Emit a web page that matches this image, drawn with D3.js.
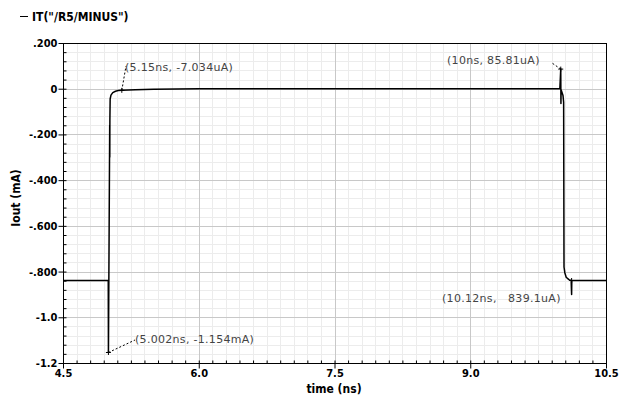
<!DOCTYPE html>
<html><head><meta charset="utf-8">
<script src="https://d3js.org/d3.v7.min.js"></script>
<style>body{margin:0;background:#fff}svg{display:block}</style>
</head><body>
<svg id="c" width="622" height="397"></svg>
<script>
const seriesName = 'IT("/R5/MINUS")';
const timeNs = [4.5, 5.000, 5.001, 5.002, 5.010, 5.016, 5.017, 5.018, 5.021, 5.030, 5.050, 5.080, 5.110, 5.150, 5.300, 5.500, 6.0, 7.5, 9.0, 9.99,
  10.000, 10.002, 10.004, 10.025, 10.032, 10.036, 10.045, 10.060, 10.090, 10.115, 10.120, 10.122, 10.5];
const ioutmA = [-0.839, -0.839, -1.0, -1.154, -0.60, -0.16, -0.30, -0.14, -0.045, -0.028, -0.017, -0.011, -0.008, -0.007, -0.004, -0.002, 0.0, 0.0, 0.0, 0.0,
  0.0858, -0.065, -0.005, -0.03, -0.06, -0.78, -0.805, -0.825, -0.835, -0.839, -0.90, -0.839, -0.839];
const xTicks = [4.5, 6.0, 7.5, 9.0, 10.5];
const xTickLabels = ["4.5", "6.0", "7.5", "9.0", "10.5"];
const yTicks = [0.2, 0, -0.2, -0.4, -0.6, -0.8, -1.0, -1.2];
const yTickLabels = [".200", "0", "-.200", "-.400", "-.600", "-.800", "-1.0", "-1.2"];
const markT = [5.15, 10.0, 5.002, 10.12];
const markV = [-0.007034, 0.08581, -1.154, -0.8391];
const markLabels = ["(5.15ns, -7.034uA)", "(10ns, 85.81uA)", "(5.002ns, -1.154mA)", "(10.12ns,   839.1uA)"];
const xLabel = "time (ns)";
const yLabel = "Iout (mA)";

const svg = d3.select("#c");
const L = 63, R = 606, T = 43, B = 363;
const x = d3.scaleLinear().domain([4.5, 10.5]).range([L, R]);
const y = d3.scaleLinear().domain([-1.2, 0.2]).range([B, T]);

const xMinor = d3.range(0, 41).map(i => 4.5 + i * 0.15);
const yMinor = d3.range(0, 36).map(i => -1.2 + i * 0.04);

const g = svg.append("g");
g.selectAll(".xm").data(xMinor).join("line")
  .attr("x1", d => Math.round(x(d)) + 0.5).attr("x2", d => Math.round(x(d)) + 0.5)
  .attr("y1", T).attr("y2", B).attr("stroke", "#ececec");
g.selectAll(".ym").data(yMinor).join("line")
  .attr("y1", d => Math.round(y(d)) + 0.5).attr("y2", d => Math.round(y(d)) + 0.5)
  .attr("x1", L).attr("x2", R).attr("stroke", "#ececec");
g.selectAll(".xM").data(xTicks).join("line")
  .attr("x1", d => Math.round(x(d)) + 0.5).attr("x2", d => Math.round(x(d)) + 0.5)
  .attr("y1", T).attr("y2", B).attr("stroke", "#c8c8c8");
g.selectAll(".yM").data(yTicks).join("line")
  .attr("y1", d => Math.round(y(d)) + 0.5).attr("y2", d => Math.round(y(d)) + 0.5)
  .attr("x1", L).attr("x2", R).attr("stroke", "#c8c8c8");

// frame
svg.append("rect").attr("x", L + 0.5).attr("y", T + 0.5).attr("width", R - L).attr("height", B - T)
  .attr("fill", "none").attr("stroke", "#000");

// axes
const fontTick = "bold 11px 'DejaVu Sans Condensed', 'DejaVu Sans', sans-serif";
const fontLab = "bold 12px 'DejaVu Sans Condensed', 'DejaVu Sans', sans-serif";
const xAxis = d3.axisBottom(x).tickValues(xTicks).tickFormat((d, i) => xTickLabels[i]).tickSize(5).tickPadding(1);
const ax = svg.append("g").attr("transform", `translate(0,${B + 0.5})`).call(xAxis);
ax.select(".domain").remove();
ax.selectAll("text").style("font", fontTick).attr("fill", "#000");
const xAxisMinor = d3.axisTop(x).tickValues(xMinor).tickFormat("").tickSize(3);
const axm = svg.append("g").attr("transform", `translate(0,${B + 0.5})`).call(xAxisMinor);
axm.select(".domain").remove();

const yAxis = d3.axisLeft(y).tickValues(yTicks).tickFormat((d, i) => yTickLabels[i]).tickSize(5).tickPadding(1);
const ay = svg.append("g").attr("transform", `translate(${L + 0.5},0)`).call(yAxis);
ay.select(".domain").remove();
ay.selectAll("text").style("font", fontTick).attr("fill", "#000");
const yAxisMinor = d3.axisRight(y).tickValues(yMinor).tickFormat("").tickSize(3);
const aym = svg.append("g").attr("transform", `translate(${L + 0.5},0)`).call(yAxisMinor);
aym.select(".domain").remove();

// labels
svg.append("text").attr("x", 334).attr("y", 393).attr("text-anchor", "middle")
  .style("font", fontLab).text(xLabel);
svg.append("text").attr("transform", `translate(20,198) rotate(-90)`).attr("text-anchor", "middle")
  .style("font", fontLab).text(yLabel);

// legend
svg.append("line").attr("x1", 20).attr("x2", 28).attr("y1", 16.5).attr("y2", 16.5).attr("stroke", "#000");
svg.append("text").attr("x", 32).attr("y", 21).style("font", "bold 12px 'DejaVu Sans Condensed', 'DejaVu Sans', sans-serif")
  .text(seriesName);

// waveform
const pts = timeNs.map((t, i) => [t, ioutmA[i]]);
svg.append("path").datum(pts)
  .attr("d", d3.line().x(d => x(d[0])).y(d => y(d[1])))
  .attr("fill", "none").attr("stroke", "#000").attr("stroke-width", 1.5).attr("stroke-linejoin", "round");

// annotations
const labelPos = [[125, 71], [447, 64], [135, 343], [442, 302]];
const leaderEnd = [[126, 66], [552, 63], [135, 340], null];
const fontAnn = "11px 'DejaVu Sans', sans-serif";
markT.forEach((t, i) => {
  const px = x(t), py = y(markV[i]);
  if (leaderEnd[i]) {
    svg.append("line").attr("x1", px).attr("y1", py).attr("x2", leaderEnd[i][0]).attr("y2", leaderEnd[i][1])
      .attr("stroke", "#000").attr("stroke-dasharray", "2,2");
  }
  svg.append("path").attr("d", `M${px - 2.5},${py}H${px + 2.5}M${px},${py - 2.5}V${py + 2.5}`).attr("stroke", "#000");
  svg.append("text").attr("x", labelPos[i][0]).attr("y", labelPos[i][1]).style("font", fontAnn)
    .style("letter-spacing", "0.3px").style("white-space", "pre").attr("fill", "#444").text(markLabels[i]);
});
</script>
</body></html>
